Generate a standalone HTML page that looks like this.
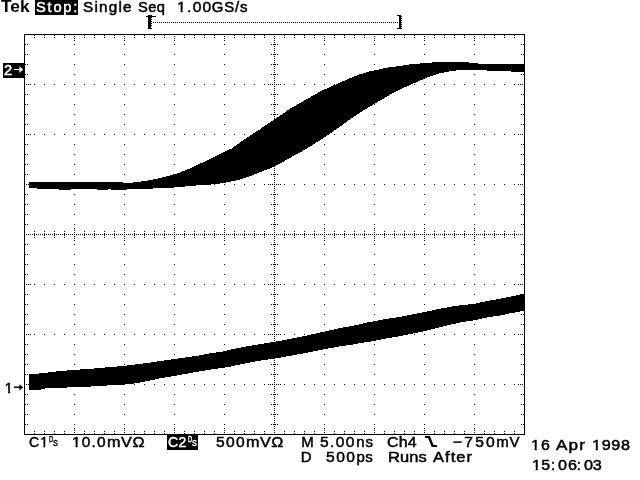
<!DOCTYPE html>
<html><head><meta charset="utf-8"><title>Tek TDS scope capture</title>
<style>
html,body{margin:0;padding:0;background:#fff;}
body{width:640px;height:480px;position:relative;overflow:hidden;font-family:"Liberation Sans",sans-serif;color:#000;}
svg{position:absolute;left:0;top:0;}
.t{position:absolute;white-space:pre;font-size:15px;line-height:16px;height:16px;letter-spacing:0.9px;-webkit-text-stroke:0.5px #000;transform-origin:0 0;}
.w{color:#fff;-webkit-text-stroke-color:#fff;}
.b{font-weight:bold;-webkit-text-stroke:0;}
.sm{font-size:9.8px;line-height:10px;height:10px;letter-spacing:0;-webkit-text-stroke-width:0.45px;}
.box{position:absolute;background:#000;}
.o{display:inline-block;clip-path:polygon(0 0,100% 0,100% calc(7.5px + 0.1965em),0.36em calc(7.5px + 0.1965em),0.36em 100%,0.232em 100%,0.232em calc(7.5px + 0.1965em),0 calc(7.5px + 0.1965em));}
</style></head><body>
<svg width="640" height="480" viewBox="0 0 640 480" shape-rendering="crispEdges">
<path d="M24 34h501v1h-501zM24 434h501v1h-501zM24 34h1v401h-1zM524 34h1v401h-1zM34 35h1v1h-1zM34 37h1v1h-1zM34 433h1v1h-1zM34 431h1v1h-1zM44 35h1v1h-1zM44 37h1v1h-1zM44 433h1v1h-1zM44 431h1v1h-1zM54 35h1v1h-1zM54 37h1v1h-1zM54 433h1v1h-1zM54 431h1v1h-1zM64 35h1v1h-1zM64 37h1v1h-1zM64 433h1v1h-1zM64 431h1v1h-1zM74 44h1v1h-1zM74 54h1v1h-1zM74 64h1v1h-1zM74 74h1v1h-1zM74 84h1v1h-1zM74 94h1v1h-1zM74 104h1v1h-1zM74 114h1v1h-1zM74 124h1v1h-1zM74 134h1v1h-1zM74 144h1v1h-1zM74 154h1v1h-1zM74 164h1v1h-1zM74 174h1v1h-1zM74 184h1v1h-1zM74 194h1v1h-1zM74 204h1v1h-1zM74 214h1v1h-1zM74 224h1v1h-1zM74 244h1v1h-1zM74 254h1v1h-1zM74 264h1v1h-1zM74 274h1v1h-1zM74 284h1v1h-1zM74 294h1v1h-1zM74 304h1v1h-1zM74 314h1v1h-1zM74 324h1v1h-1zM74 334h1v1h-1zM74 344h1v1h-1zM74 354h1v1h-1zM74 364h1v1h-1zM74 374h1v1h-1zM74 384h1v1h-1zM74 394h1v1h-1zM74 404h1v1h-1zM74 414h1v1h-1zM74 424h1v1h-1zM74 36h1v1h-1zM74 432h1v1h-1zM74 232h1v1h-1zM74 236h1v1h-1zM74 38h1v1h-1zM74 430h1v1h-1zM74 230h1v1h-1zM74 238h1v1h-1zM74 40h1v1h-1zM74 428h1v1h-1zM74 228h1v1h-1zM74 240h1v1h-1zM84 35h1v1h-1zM84 37h1v1h-1zM84 433h1v1h-1zM84 431h1v1h-1zM94 35h1v1h-1zM94 37h1v1h-1zM94 433h1v1h-1zM94 431h1v1h-1zM104 35h1v1h-1zM104 37h1v1h-1zM104 433h1v1h-1zM104 431h1v1h-1zM114 35h1v1h-1zM114 37h1v1h-1zM114 433h1v1h-1zM114 431h1v1h-1zM124 44h1v1h-1zM124 54h1v1h-1zM124 64h1v1h-1zM124 74h1v1h-1zM124 84h1v1h-1zM124 94h1v1h-1zM124 104h1v1h-1zM124 114h1v1h-1zM124 124h1v1h-1zM124 134h1v1h-1zM124 144h1v1h-1zM124 154h1v1h-1zM124 164h1v1h-1zM124 174h1v1h-1zM124 184h1v1h-1zM124 194h1v1h-1zM124 204h1v1h-1zM124 214h1v1h-1zM124 224h1v1h-1zM124 244h1v1h-1zM124 254h1v1h-1zM124 264h1v1h-1zM124 274h1v1h-1zM124 284h1v1h-1zM124 294h1v1h-1zM124 304h1v1h-1zM124 314h1v1h-1zM124 324h1v1h-1zM124 334h1v1h-1zM124 344h1v1h-1zM124 354h1v1h-1zM124 364h1v1h-1zM124 374h1v1h-1zM124 384h1v1h-1zM124 394h1v1h-1zM124 404h1v1h-1zM124 414h1v1h-1zM124 424h1v1h-1zM124 36h1v1h-1zM124 432h1v1h-1zM124 232h1v1h-1zM124 236h1v1h-1zM124 38h1v1h-1zM124 430h1v1h-1zM124 230h1v1h-1zM124 238h1v1h-1zM124 40h1v1h-1zM124 428h1v1h-1zM124 228h1v1h-1zM124 240h1v1h-1zM134 35h1v1h-1zM134 37h1v1h-1zM134 433h1v1h-1zM134 431h1v1h-1zM144 35h1v1h-1zM144 37h1v1h-1zM144 433h1v1h-1zM144 431h1v1h-1zM154 35h1v1h-1zM154 37h1v1h-1zM154 433h1v1h-1zM154 431h1v1h-1zM164 35h1v1h-1zM164 37h1v1h-1zM164 433h1v1h-1zM164 431h1v1h-1zM174 44h1v1h-1zM174 54h1v1h-1zM174 64h1v1h-1zM174 74h1v1h-1zM174 84h1v1h-1zM174 94h1v1h-1zM174 104h1v1h-1zM174 114h1v1h-1zM174 124h1v1h-1zM174 134h1v1h-1zM174 144h1v1h-1zM174 154h1v1h-1zM174 164h1v1h-1zM174 174h1v1h-1zM174 184h1v1h-1zM174 194h1v1h-1zM174 204h1v1h-1zM174 214h1v1h-1zM174 224h1v1h-1zM174 244h1v1h-1zM174 254h1v1h-1zM174 264h1v1h-1zM174 274h1v1h-1zM174 284h1v1h-1zM174 294h1v1h-1zM174 304h1v1h-1zM174 314h1v1h-1zM174 324h1v1h-1zM174 334h1v1h-1zM174 344h1v1h-1zM174 354h1v1h-1zM174 364h1v1h-1zM174 374h1v1h-1zM174 384h1v1h-1zM174 394h1v1h-1zM174 404h1v1h-1zM174 414h1v1h-1zM174 424h1v1h-1zM174 36h1v1h-1zM174 432h1v1h-1zM174 232h1v1h-1zM174 236h1v1h-1zM174 38h1v1h-1zM174 430h1v1h-1zM174 230h1v1h-1zM174 238h1v1h-1zM174 40h1v1h-1zM174 428h1v1h-1zM174 228h1v1h-1zM174 240h1v1h-1zM184 35h1v1h-1zM184 37h1v1h-1zM184 433h1v1h-1zM184 431h1v1h-1zM194 35h1v1h-1zM194 37h1v1h-1zM194 433h1v1h-1zM194 431h1v1h-1zM204 35h1v1h-1zM204 37h1v1h-1zM204 433h1v1h-1zM204 431h1v1h-1zM214 35h1v1h-1zM214 37h1v1h-1zM214 433h1v1h-1zM214 431h1v1h-1zM224 44h1v1h-1zM224 54h1v1h-1zM224 64h1v1h-1zM224 74h1v1h-1zM224 84h1v1h-1zM224 94h1v1h-1zM224 104h1v1h-1zM224 114h1v1h-1zM224 124h1v1h-1zM224 134h1v1h-1zM224 144h1v1h-1zM224 154h1v1h-1zM224 164h1v1h-1zM224 174h1v1h-1zM224 184h1v1h-1zM224 194h1v1h-1zM224 204h1v1h-1zM224 214h1v1h-1zM224 224h1v1h-1zM224 244h1v1h-1zM224 254h1v1h-1zM224 264h1v1h-1zM224 274h1v1h-1zM224 284h1v1h-1zM224 294h1v1h-1zM224 304h1v1h-1zM224 314h1v1h-1zM224 324h1v1h-1zM224 334h1v1h-1zM224 344h1v1h-1zM224 354h1v1h-1zM224 364h1v1h-1zM224 374h1v1h-1zM224 384h1v1h-1zM224 394h1v1h-1zM224 404h1v1h-1zM224 414h1v1h-1zM224 424h1v1h-1zM224 36h1v1h-1zM224 432h1v1h-1zM224 232h1v1h-1zM224 236h1v1h-1zM224 38h1v1h-1zM224 430h1v1h-1zM224 230h1v1h-1zM224 238h1v1h-1zM224 40h1v1h-1zM224 428h1v1h-1zM224 228h1v1h-1zM224 240h1v1h-1zM234 35h1v1h-1zM234 37h1v1h-1zM234 433h1v1h-1zM234 431h1v1h-1zM244 35h1v1h-1zM244 37h1v1h-1zM244 433h1v1h-1zM244 431h1v1h-1zM254 35h1v1h-1zM254 37h1v1h-1zM254 433h1v1h-1zM254 431h1v1h-1zM264 35h1v1h-1zM264 37h1v1h-1zM264 433h1v1h-1zM264 431h1v1h-1zM284 35h1v1h-1zM284 37h1v1h-1zM284 433h1v1h-1zM284 431h1v1h-1zM294 35h1v1h-1zM294 37h1v1h-1zM294 433h1v1h-1zM294 431h1v1h-1zM304 35h1v1h-1zM304 37h1v1h-1zM304 433h1v1h-1zM304 431h1v1h-1zM314 35h1v1h-1zM314 37h1v1h-1zM314 433h1v1h-1zM314 431h1v1h-1zM324 44h1v1h-1zM324 54h1v1h-1zM324 64h1v1h-1zM324 74h1v1h-1zM324 84h1v1h-1zM324 94h1v1h-1zM324 104h1v1h-1zM324 114h1v1h-1zM324 124h1v1h-1zM324 134h1v1h-1zM324 144h1v1h-1zM324 154h1v1h-1zM324 164h1v1h-1zM324 174h1v1h-1zM324 184h1v1h-1zM324 194h1v1h-1zM324 204h1v1h-1zM324 214h1v1h-1zM324 224h1v1h-1zM324 244h1v1h-1zM324 254h1v1h-1zM324 264h1v1h-1zM324 274h1v1h-1zM324 284h1v1h-1zM324 294h1v1h-1zM324 304h1v1h-1zM324 314h1v1h-1zM324 324h1v1h-1zM324 334h1v1h-1zM324 344h1v1h-1zM324 354h1v1h-1zM324 364h1v1h-1zM324 374h1v1h-1zM324 384h1v1h-1zM324 394h1v1h-1zM324 404h1v1h-1zM324 414h1v1h-1zM324 424h1v1h-1zM324 36h1v1h-1zM324 432h1v1h-1zM324 232h1v1h-1zM324 236h1v1h-1zM324 38h1v1h-1zM324 430h1v1h-1zM324 230h1v1h-1zM324 238h1v1h-1zM324 40h1v1h-1zM324 428h1v1h-1zM324 228h1v1h-1zM324 240h1v1h-1zM334 35h1v1h-1zM334 37h1v1h-1zM334 433h1v1h-1zM334 431h1v1h-1zM344 35h1v1h-1zM344 37h1v1h-1zM344 433h1v1h-1zM344 431h1v1h-1zM354 35h1v1h-1zM354 37h1v1h-1zM354 433h1v1h-1zM354 431h1v1h-1zM364 35h1v1h-1zM364 37h1v1h-1zM364 433h1v1h-1zM364 431h1v1h-1zM374 44h1v1h-1zM374 54h1v1h-1zM374 64h1v1h-1zM374 74h1v1h-1zM374 84h1v1h-1zM374 94h1v1h-1zM374 104h1v1h-1zM374 114h1v1h-1zM374 124h1v1h-1zM374 134h1v1h-1zM374 144h1v1h-1zM374 154h1v1h-1zM374 164h1v1h-1zM374 174h1v1h-1zM374 184h1v1h-1zM374 194h1v1h-1zM374 204h1v1h-1zM374 214h1v1h-1zM374 224h1v1h-1zM374 244h1v1h-1zM374 254h1v1h-1zM374 264h1v1h-1zM374 274h1v1h-1zM374 284h1v1h-1zM374 294h1v1h-1zM374 304h1v1h-1zM374 314h1v1h-1zM374 324h1v1h-1zM374 334h1v1h-1zM374 344h1v1h-1zM374 354h1v1h-1zM374 364h1v1h-1zM374 374h1v1h-1zM374 384h1v1h-1zM374 394h1v1h-1zM374 404h1v1h-1zM374 414h1v1h-1zM374 424h1v1h-1zM374 36h1v1h-1zM374 432h1v1h-1zM374 232h1v1h-1zM374 236h1v1h-1zM374 38h1v1h-1zM374 430h1v1h-1zM374 230h1v1h-1zM374 238h1v1h-1zM374 40h1v1h-1zM374 428h1v1h-1zM374 228h1v1h-1zM374 240h1v1h-1zM384 35h1v1h-1zM384 37h1v1h-1zM384 433h1v1h-1zM384 431h1v1h-1zM394 35h1v1h-1zM394 37h1v1h-1zM394 433h1v1h-1zM394 431h1v1h-1zM404 35h1v1h-1zM404 37h1v1h-1zM404 433h1v1h-1zM404 431h1v1h-1zM414 35h1v1h-1zM414 37h1v1h-1zM414 433h1v1h-1zM414 431h1v1h-1zM424 44h1v1h-1zM424 54h1v1h-1zM424 64h1v1h-1zM424 74h1v1h-1zM424 84h1v1h-1zM424 94h1v1h-1zM424 104h1v1h-1zM424 114h1v1h-1zM424 124h1v1h-1zM424 134h1v1h-1zM424 144h1v1h-1zM424 154h1v1h-1zM424 164h1v1h-1zM424 174h1v1h-1zM424 184h1v1h-1zM424 194h1v1h-1zM424 204h1v1h-1zM424 214h1v1h-1zM424 224h1v1h-1zM424 244h1v1h-1zM424 254h1v1h-1zM424 264h1v1h-1zM424 274h1v1h-1zM424 284h1v1h-1zM424 294h1v1h-1zM424 304h1v1h-1zM424 314h1v1h-1zM424 324h1v1h-1zM424 334h1v1h-1zM424 344h1v1h-1zM424 354h1v1h-1zM424 364h1v1h-1zM424 374h1v1h-1zM424 384h1v1h-1zM424 394h1v1h-1zM424 404h1v1h-1zM424 414h1v1h-1zM424 424h1v1h-1zM424 36h1v1h-1zM424 432h1v1h-1zM424 232h1v1h-1zM424 236h1v1h-1zM424 38h1v1h-1zM424 430h1v1h-1zM424 230h1v1h-1zM424 238h1v1h-1zM424 40h1v1h-1zM424 428h1v1h-1zM424 228h1v1h-1zM424 240h1v1h-1zM434 35h1v1h-1zM434 37h1v1h-1zM434 433h1v1h-1zM434 431h1v1h-1zM444 35h1v1h-1zM444 37h1v1h-1zM444 433h1v1h-1zM444 431h1v1h-1zM454 35h1v1h-1zM454 37h1v1h-1zM454 433h1v1h-1zM454 431h1v1h-1zM464 35h1v1h-1zM464 37h1v1h-1zM464 433h1v1h-1zM464 431h1v1h-1zM474 44h1v1h-1zM474 54h1v1h-1zM474 64h1v1h-1zM474 74h1v1h-1zM474 84h1v1h-1zM474 94h1v1h-1zM474 104h1v1h-1zM474 114h1v1h-1zM474 124h1v1h-1zM474 134h1v1h-1zM474 144h1v1h-1zM474 154h1v1h-1zM474 164h1v1h-1zM474 174h1v1h-1zM474 184h1v1h-1zM474 194h1v1h-1zM474 204h1v1h-1zM474 214h1v1h-1zM474 224h1v1h-1zM474 244h1v1h-1zM474 254h1v1h-1zM474 264h1v1h-1zM474 274h1v1h-1zM474 284h1v1h-1zM474 294h1v1h-1zM474 304h1v1h-1zM474 314h1v1h-1zM474 324h1v1h-1zM474 334h1v1h-1zM474 344h1v1h-1zM474 354h1v1h-1zM474 364h1v1h-1zM474 374h1v1h-1zM474 384h1v1h-1zM474 394h1v1h-1zM474 404h1v1h-1zM474 414h1v1h-1zM474 424h1v1h-1zM474 36h1v1h-1zM474 432h1v1h-1zM474 232h1v1h-1zM474 236h1v1h-1zM474 38h1v1h-1zM474 430h1v1h-1zM474 230h1v1h-1zM474 238h1v1h-1zM474 40h1v1h-1zM474 428h1v1h-1zM474 228h1v1h-1zM474 240h1v1h-1zM484 35h1v1h-1zM484 37h1v1h-1zM484 433h1v1h-1zM484 431h1v1h-1zM494 35h1v1h-1zM494 37h1v1h-1zM494 433h1v1h-1zM494 431h1v1h-1zM504 35h1v1h-1zM504 37h1v1h-1zM504 433h1v1h-1zM504 431h1v1h-1zM514 35h1v1h-1zM514 37h1v1h-1zM514 433h1v1h-1zM514 431h1v1h-1zM25 44h1v1h-1zM27 44h1v1h-1zM523 44h1v1h-1zM521 44h1v1h-1zM25 54h1v1h-1zM27 54h1v1h-1zM523 54h1v1h-1zM521 54h1v1h-1zM25 64h1v1h-1zM27 64h1v1h-1zM523 64h1v1h-1zM521 64h1v1h-1zM25 74h1v1h-1zM27 74h1v1h-1zM523 74h1v1h-1zM521 74h1v1h-1zM34 84h1v1h-1zM44 84h1v1h-1zM54 84h1v1h-1zM64 84h1v1h-1zM84 84h1v1h-1zM94 84h1v1h-1zM104 84h1v1h-1zM114 84h1v1h-1zM134 84h1v1h-1zM144 84h1v1h-1zM154 84h1v1h-1zM164 84h1v1h-1zM184 84h1v1h-1zM194 84h1v1h-1zM204 84h1v1h-1zM214 84h1v1h-1zM234 84h1v1h-1zM244 84h1v1h-1zM254 84h1v1h-1zM264 84h1v1h-1zM284 84h1v1h-1zM294 84h1v1h-1zM304 84h1v1h-1zM314 84h1v1h-1zM334 84h1v1h-1zM344 84h1v1h-1zM354 84h1v1h-1zM364 84h1v1h-1zM384 84h1v1h-1zM394 84h1v1h-1zM404 84h1v1h-1zM414 84h1v1h-1zM434 84h1v1h-1zM444 84h1v1h-1zM454 84h1v1h-1zM464 84h1v1h-1zM484 84h1v1h-1zM494 84h1v1h-1zM504 84h1v1h-1zM514 84h1v1h-1zM26 84h1v1h-1zM522 84h1v1h-1zM272 84h1v1h-1zM276 84h1v1h-1zM28 84h1v1h-1zM520 84h1v1h-1zM270 84h1v1h-1zM278 84h1v1h-1zM30 84h1v1h-1zM518 84h1v1h-1zM268 84h1v1h-1zM280 84h1v1h-1zM25 94h1v1h-1zM27 94h1v1h-1zM523 94h1v1h-1zM521 94h1v1h-1zM25 104h1v1h-1zM27 104h1v1h-1zM523 104h1v1h-1zM521 104h1v1h-1zM25 114h1v1h-1zM27 114h1v1h-1zM523 114h1v1h-1zM521 114h1v1h-1zM25 124h1v1h-1zM27 124h1v1h-1zM523 124h1v1h-1zM521 124h1v1h-1zM34 134h1v1h-1zM44 134h1v1h-1zM54 134h1v1h-1zM64 134h1v1h-1zM84 134h1v1h-1zM94 134h1v1h-1zM104 134h1v1h-1zM114 134h1v1h-1zM134 134h1v1h-1zM144 134h1v1h-1zM154 134h1v1h-1zM164 134h1v1h-1zM184 134h1v1h-1zM194 134h1v1h-1zM204 134h1v1h-1zM214 134h1v1h-1zM234 134h1v1h-1zM244 134h1v1h-1zM254 134h1v1h-1zM264 134h1v1h-1zM284 134h1v1h-1zM294 134h1v1h-1zM304 134h1v1h-1zM314 134h1v1h-1zM334 134h1v1h-1zM344 134h1v1h-1zM354 134h1v1h-1zM364 134h1v1h-1zM384 134h1v1h-1zM394 134h1v1h-1zM404 134h1v1h-1zM414 134h1v1h-1zM434 134h1v1h-1zM444 134h1v1h-1zM454 134h1v1h-1zM464 134h1v1h-1zM484 134h1v1h-1zM494 134h1v1h-1zM504 134h1v1h-1zM514 134h1v1h-1zM26 134h1v1h-1zM522 134h1v1h-1zM272 134h1v1h-1zM276 134h1v1h-1zM28 134h1v1h-1zM520 134h1v1h-1zM270 134h1v1h-1zM278 134h1v1h-1zM30 134h1v1h-1zM518 134h1v1h-1zM268 134h1v1h-1zM280 134h1v1h-1zM25 144h1v1h-1zM27 144h1v1h-1zM523 144h1v1h-1zM521 144h1v1h-1zM25 154h1v1h-1zM27 154h1v1h-1zM523 154h1v1h-1zM521 154h1v1h-1zM25 164h1v1h-1zM27 164h1v1h-1zM523 164h1v1h-1zM521 164h1v1h-1zM25 174h1v1h-1zM27 174h1v1h-1zM523 174h1v1h-1zM521 174h1v1h-1zM34 184h1v1h-1zM44 184h1v1h-1zM54 184h1v1h-1zM64 184h1v1h-1zM84 184h1v1h-1zM94 184h1v1h-1zM104 184h1v1h-1zM114 184h1v1h-1zM134 184h1v1h-1zM144 184h1v1h-1zM154 184h1v1h-1zM164 184h1v1h-1zM184 184h1v1h-1zM194 184h1v1h-1zM204 184h1v1h-1zM214 184h1v1h-1zM234 184h1v1h-1zM244 184h1v1h-1zM254 184h1v1h-1zM264 184h1v1h-1zM284 184h1v1h-1zM294 184h1v1h-1zM304 184h1v1h-1zM314 184h1v1h-1zM334 184h1v1h-1zM344 184h1v1h-1zM354 184h1v1h-1zM364 184h1v1h-1zM384 184h1v1h-1zM394 184h1v1h-1zM404 184h1v1h-1zM414 184h1v1h-1zM434 184h1v1h-1zM444 184h1v1h-1zM454 184h1v1h-1zM464 184h1v1h-1zM484 184h1v1h-1zM494 184h1v1h-1zM504 184h1v1h-1zM514 184h1v1h-1zM26 184h1v1h-1zM522 184h1v1h-1zM272 184h1v1h-1zM276 184h1v1h-1zM28 184h1v1h-1zM520 184h1v1h-1zM270 184h1v1h-1zM278 184h1v1h-1zM30 184h1v1h-1zM518 184h1v1h-1zM268 184h1v1h-1zM280 184h1v1h-1zM25 194h1v1h-1zM27 194h1v1h-1zM523 194h1v1h-1zM521 194h1v1h-1zM25 204h1v1h-1zM27 204h1v1h-1zM523 204h1v1h-1zM521 204h1v1h-1zM25 214h1v1h-1zM27 214h1v1h-1zM523 214h1v1h-1zM521 214h1v1h-1zM25 224h1v1h-1zM27 224h1v1h-1zM523 224h1v1h-1zM521 224h1v1h-1zM25 244h1v1h-1zM27 244h1v1h-1zM523 244h1v1h-1zM521 244h1v1h-1zM25 254h1v1h-1zM27 254h1v1h-1zM523 254h1v1h-1zM521 254h1v1h-1zM25 264h1v1h-1zM27 264h1v1h-1zM523 264h1v1h-1zM521 264h1v1h-1zM25 274h1v1h-1zM27 274h1v1h-1zM523 274h1v1h-1zM521 274h1v1h-1zM34 284h1v1h-1zM44 284h1v1h-1zM54 284h1v1h-1zM64 284h1v1h-1zM84 284h1v1h-1zM94 284h1v1h-1zM104 284h1v1h-1zM114 284h1v1h-1zM134 284h1v1h-1zM144 284h1v1h-1zM154 284h1v1h-1zM164 284h1v1h-1zM184 284h1v1h-1zM194 284h1v1h-1zM204 284h1v1h-1zM214 284h1v1h-1zM234 284h1v1h-1zM244 284h1v1h-1zM254 284h1v1h-1zM264 284h1v1h-1zM284 284h1v1h-1zM294 284h1v1h-1zM304 284h1v1h-1zM314 284h1v1h-1zM334 284h1v1h-1zM344 284h1v1h-1zM354 284h1v1h-1zM364 284h1v1h-1zM384 284h1v1h-1zM394 284h1v1h-1zM404 284h1v1h-1zM414 284h1v1h-1zM434 284h1v1h-1zM444 284h1v1h-1zM454 284h1v1h-1zM464 284h1v1h-1zM484 284h1v1h-1zM494 284h1v1h-1zM504 284h1v1h-1zM514 284h1v1h-1zM26 284h1v1h-1zM522 284h1v1h-1zM272 284h1v1h-1zM276 284h1v1h-1zM28 284h1v1h-1zM520 284h1v1h-1zM270 284h1v1h-1zM278 284h1v1h-1zM30 284h1v1h-1zM518 284h1v1h-1zM268 284h1v1h-1zM280 284h1v1h-1zM25 294h1v1h-1zM27 294h1v1h-1zM523 294h1v1h-1zM521 294h1v1h-1zM25 304h1v1h-1zM27 304h1v1h-1zM523 304h1v1h-1zM521 304h1v1h-1zM25 314h1v1h-1zM27 314h1v1h-1zM523 314h1v1h-1zM521 314h1v1h-1zM25 324h1v1h-1zM27 324h1v1h-1zM523 324h1v1h-1zM521 324h1v1h-1zM34 334h1v1h-1zM44 334h1v1h-1zM54 334h1v1h-1zM64 334h1v1h-1zM84 334h1v1h-1zM94 334h1v1h-1zM104 334h1v1h-1zM114 334h1v1h-1zM134 334h1v1h-1zM144 334h1v1h-1zM154 334h1v1h-1zM164 334h1v1h-1zM184 334h1v1h-1zM194 334h1v1h-1zM204 334h1v1h-1zM214 334h1v1h-1zM234 334h1v1h-1zM244 334h1v1h-1zM254 334h1v1h-1zM264 334h1v1h-1zM284 334h1v1h-1zM294 334h1v1h-1zM304 334h1v1h-1zM314 334h1v1h-1zM334 334h1v1h-1zM344 334h1v1h-1zM354 334h1v1h-1zM364 334h1v1h-1zM384 334h1v1h-1zM394 334h1v1h-1zM404 334h1v1h-1zM414 334h1v1h-1zM434 334h1v1h-1zM444 334h1v1h-1zM454 334h1v1h-1zM464 334h1v1h-1zM484 334h1v1h-1zM494 334h1v1h-1zM504 334h1v1h-1zM514 334h1v1h-1zM26 334h1v1h-1zM522 334h1v1h-1zM272 334h1v1h-1zM276 334h1v1h-1zM28 334h1v1h-1zM520 334h1v1h-1zM270 334h1v1h-1zM278 334h1v1h-1zM30 334h1v1h-1zM518 334h1v1h-1zM268 334h1v1h-1zM280 334h1v1h-1zM25 344h1v1h-1zM27 344h1v1h-1zM523 344h1v1h-1zM521 344h1v1h-1zM25 354h1v1h-1zM27 354h1v1h-1zM523 354h1v1h-1zM521 354h1v1h-1zM25 364h1v1h-1zM27 364h1v1h-1zM523 364h1v1h-1zM521 364h1v1h-1zM25 374h1v1h-1zM27 374h1v1h-1zM523 374h1v1h-1zM521 374h1v1h-1zM34 384h1v1h-1zM44 384h1v1h-1zM54 384h1v1h-1zM64 384h1v1h-1zM84 384h1v1h-1zM94 384h1v1h-1zM104 384h1v1h-1zM114 384h1v1h-1zM134 384h1v1h-1zM144 384h1v1h-1zM154 384h1v1h-1zM164 384h1v1h-1zM184 384h1v1h-1zM194 384h1v1h-1zM204 384h1v1h-1zM214 384h1v1h-1zM234 384h1v1h-1zM244 384h1v1h-1zM254 384h1v1h-1zM264 384h1v1h-1zM284 384h1v1h-1zM294 384h1v1h-1zM304 384h1v1h-1zM314 384h1v1h-1zM334 384h1v1h-1zM344 384h1v1h-1zM354 384h1v1h-1zM364 384h1v1h-1zM384 384h1v1h-1zM394 384h1v1h-1zM404 384h1v1h-1zM414 384h1v1h-1zM434 384h1v1h-1zM444 384h1v1h-1zM454 384h1v1h-1zM464 384h1v1h-1zM484 384h1v1h-1zM494 384h1v1h-1zM504 384h1v1h-1zM514 384h1v1h-1zM26 384h1v1h-1zM522 384h1v1h-1zM272 384h1v1h-1zM276 384h1v1h-1zM28 384h1v1h-1zM520 384h1v1h-1zM270 384h1v1h-1zM278 384h1v1h-1zM30 384h1v1h-1zM518 384h1v1h-1zM268 384h1v1h-1zM280 384h1v1h-1zM25 394h1v1h-1zM27 394h1v1h-1zM523 394h1v1h-1zM521 394h1v1h-1zM25 404h1v1h-1zM27 404h1v1h-1zM523 404h1v1h-1zM521 404h1v1h-1zM25 414h1v1h-1zM27 414h1v1h-1zM523 414h1v1h-1zM521 414h1v1h-1zM25 424h1v1h-1zM27 424h1v1h-1zM523 424h1v1h-1zM521 424h1v1h-1zM274 36h1v1h-1zM274 38h1v1h-1zM274 40h1v1h-1zM274 42h1v1h-1zM274 44h1v1h-1zM271 44h1v1h-1zM273 44h1v1h-1zM275 44h1v1h-1zM277 44h1v1h-1zM274 46h1v1h-1zM274 48h1v1h-1zM274 50h1v1h-1zM274 52h1v1h-1zM274 54h1v1h-1zM271 54h1v1h-1zM273 54h1v1h-1zM275 54h1v1h-1zM277 54h1v1h-1zM274 56h1v1h-1zM274 58h1v1h-1zM274 60h1v1h-1zM274 62h1v1h-1zM274 64h1v1h-1zM271 64h1v1h-1zM273 64h1v1h-1zM275 64h1v1h-1zM277 64h1v1h-1zM274 66h1v1h-1zM274 68h1v1h-1zM274 70h1v1h-1zM274 72h1v1h-1zM274 74h1v1h-1zM271 74h1v1h-1zM273 74h1v1h-1zM275 74h1v1h-1zM277 74h1v1h-1zM274 76h1v1h-1zM274 78h1v1h-1zM274 80h1v1h-1zM274 82h1v1h-1zM274 84h1v1h-1zM274 86h1v1h-1zM274 88h1v1h-1zM274 90h1v1h-1zM274 92h1v1h-1zM274 94h1v1h-1zM271 94h1v1h-1zM273 94h1v1h-1zM275 94h1v1h-1zM277 94h1v1h-1zM274 96h1v1h-1zM274 98h1v1h-1zM274 100h1v1h-1zM274 102h1v1h-1zM274 104h1v1h-1zM271 104h1v1h-1zM273 104h1v1h-1zM275 104h1v1h-1zM277 104h1v1h-1zM274 106h1v1h-1zM274 108h1v1h-1zM274 110h1v1h-1zM274 112h1v1h-1zM274 114h1v1h-1zM271 114h1v1h-1zM273 114h1v1h-1zM275 114h1v1h-1zM277 114h1v1h-1zM274 116h1v1h-1zM274 118h1v1h-1zM274 120h1v1h-1zM274 122h1v1h-1zM274 124h1v1h-1zM271 124h1v1h-1zM273 124h1v1h-1zM275 124h1v1h-1zM277 124h1v1h-1zM274 126h1v1h-1zM274 128h1v1h-1zM274 130h1v1h-1zM274 132h1v1h-1zM274 134h1v1h-1zM274 136h1v1h-1zM274 138h1v1h-1zM274 140h1v1h-1zM274 142h1v1h-1zM274 144h1v1h-1zM271 144h1v1h-1zM273 144h1v1h-1zM275 144h1v1h-1zM277 144h1v1h-1zM274 146h1v1h-1zM274 148h1v1h-1zM274 150h1v1h-1zM274 152h1v1h-1zM274 154h1v1h-1zM271 154h1v1h-1zM273 154h1v1h-1zM275 154h1v1h-1zM277 154h1v1h-1zM274 156h1v1h-1zM274 158h1v1h-1zM274 160h1v1h-1zM274 162h1v1h-1zM274 164h1v1h-1zM271 164h1v1h-1zM273 164h1v1h-1zM275 164h1v1h-1zM277 164h1v1h-1zM274 166h1v1h-1zM274 168h1v1h-1zM274 170h1v1h-1zM274 172h1v1h-1zM274 174h1v1h-1zM271 174h1v1h-1zM273 174h1v1h-1zM275 174h1v1h-1zM277 174h1v1h-1zM274 176h1v1h-1zM274 178h1v1h-1zM274 180h1v1h-1zM274 182h1v1h-1zM274 184h1v1h-1zM274 186h1v1h-1zM274 188h1v1h-1zM274 190h1v1h-1zM274 192h1v1h-1zM274 194h1v1h-1zM271 194h1v1h-1zM273 194h1v1h-1zM275 194h1v1h-1zM277 194h1v1h-1zM274 196h1v1h-1zM274 198h1v1h-1zM274 200h1v1h-1zM274 202h1v1h-1zM274 204h1v1h-1zM271 204h1v1h-1zM273 204h1v1h-1zM275 204h1v1h-1zM277 204h1v1h-1zM274 206h1v1h-1zM274 208h1v1h-1zM274 210h1v1h-1zM274 212h1v1h-1zM274 214h1v1h-1zM271 214h1v1h-1zM273 214h1v1h-1zM275 214h1v1h-1zM277 214h1v1h-1zM274 216h1v1h-1zM274 218h1v1h-1zM274 220h1v1h-1zM274 222h1v1h-1zM274 224h1v1h-1zM271 224h1v1h-1zM273 224h1v1h-1zM275 224h1v1h-1zM277 224h1v1h-1zM274 226h1v1h-1zM274 228h1v1h-1zM274 230h1v1h-1zM274 232h1v1h-1zM274 234h1v1h-1zM274 236h1v1h-1zM274 238h1v1h-1zM274 240h1v1h-1zM274 242h1v1h-1zM274 244h1v1h-1zM271 244h1v1h-1zM273 244h1v1h-1zM275 244h1v1h-1zM277 244h1v1h-1zM274 246h1v1h-1zM274 248h1v1h-1zM274 250h1v1h-1zM274 252h1v1h-1zM274 254h1v1h-1zM271 254h1v1h-1zM273 254h1v1h-1zM275 254h1v1h-1zM277 254h1v1h-1zM274 256h1v1h-1zM274 258h1v1h-1zM274 260h1v1h-1zM274 262h1v1h-1zM274 264h1v1h-1zM271 264h1v1h-1zM273 264h1v1h-1zM275 264h1v1h-1zM277 264h1v1h-1zM274 266h1v1h-1zM274 268h1v1h-1zM274 270h1v1h-1zM274 272h1v1h-1zM274 274h1v1h-1zM271 274h1v1h-1zM273 274h1v1h-1zM275 274h1v1h-1zM277 274h1v1h-1zM274 276h1v1h-1zM274 278h1v1h-1zM274 280h1v1h-1zM274 282h1v1h-1zM274 284h1v1h-1zM274 286h1v1h-1zM274 288h1v1h-1zM274 290h1v1h-1zM274 292h1v1h-1zM274 294h1v1h-1zM271 294h1v1h-1zM273 294h1v1h-1zM275 294h1v1h-1zM277 294h1v1h-1zM274 296h1v1h-1zM274 298h1v1h-1zM274 300h1v1h-1zM274 302h1v1h-1zM274 304h1v1h-1zM271 304h1v1h-1zM273 304h1v1h-1zM275 304h1v1h-1zM277 304h1v1h-1zM274 306h1v1h-1zM274 308h1v1h-1zM274 310h1v1h-1zM274 312h1v1h-1zM274 314h1v1h-1zM271 314h1v1h-1zM273 314h1v1h-1zM275 314h1v1h-1zM277 314h1v1h-1zM274 316h1v1h-1zM274 318h1v1h-1zM274 320h1v1h-1zM274 322h1v1h-1zM274 324h1v1h-1zM271 324h1v1h-1zM273 324h1v1h-1zM275 324h1v1h-1zM277 324h1v1h-1zM274 326h1v1h-1zM274 328h1v1h-1zM274 330h1v1h-1zM274 332h1v1h-1zM274 334h1v1h-1zM274 336h1v1h-1zM274 338h1v1h-1zM274 340h1v1h-1zM274 342h1v1h-1zM274 344h1v1h-1zM271 344h1v1h-1zM273 344h1v1h-1zM275 344h1v1h-1zM277 344h1v1h-1zM274 346h1v1h-1zM274 348h1v1h-1zM274 350h1v1h-1zM274 352h1v1h-1zM274 354h1v1h-1zM271 354h1v1h-1zM273 354h1v1h-1zM275 354h1v1h-1zM277 354h1v1h-1zM274 356h1v1h-1zM274 358h1v1h-1zM274 360h1v1h-1zM274 362h1v1h-1zM274 364h1v1h-1zM271 364h1v1h-1zM273 364h1v1h-1zM275 364h1v1h-1zM277 364h1v1h-1zM274 366h1v1h-1zM274 368h1v1h-1zM274 370h1v1h-1zM274 372h1v1h-1zM274 374h1v1h-1zM271 374h1v1h-1zM273 374h1v1h-1zM275 374h1v1h-1zM277 374h1v1h-1zM274 376h1v1h-1zM274 378h1v1h-1zM274 380h1v1h-1zM274 382h1v1h-1zM274 384h1v1h-1zM274 386h1v1h-1zM274 388h1v1h-1zM274 390h1v1h-1zM274 392h1v1h-1zM274 394h1v1h-1zM271 394h1v1h-1zM273 394h1v1h-1zM275 394h1v1h-1zM277 394h1v1h-1zM274 396h1v1h-1zM274 398h1v1h-1zM274 400h1v1h-1zM274 402h1v1h-1zM274 404h1v1h-1zM271 404h1v1h-1zM273 404h1v1h-1zM275 404h1v1h-1zM277 404h1v1h-1zM274 406h1v1h-1zM274 408h1v1h-1zM274 410h1v1h-1zM274 412h1v1h-1zM274 414h1v1h-1zM271 414h1v1h-1zM273 414h1v1h-1zM275 414h1v1h-1zM277 414h1v1h-1zM274 416h1v1h-1zM274 418h1v1h-1zM274 420h1v1h-1zM274 422h1v1h-1zM274 424h1v1h-1zM271 424h1v1h-1zM273 424h1v1h-1zM275 424h1v1h-1zM277 424h1v1h-1zM274 426h1v1h-1zM274 428h1v1h-1zM274 430h1v1h-1zM274 432h1v1h-1zM26 234h1v1h-1zM28 234h1v1h-1zM30 234h1v1h-1zM32 234h1v1h-1zM34 234h1v1h-1zM34 231h1v1h-1zM34 233h1v1h-1zM34 235h1v1h-1zM34 237h1v1h-1zM36 234h1v1h-1zM38 234h1v1h-1zM40 234h1v1h-1zM42 234h1v1h-1zM44 234h1v1h-1zM44 231h1v1h-1zM44 233h1v1h-1zM44 235h1v1h-1zM44 237h1v1h-1zM46 234h1v1h-1zM48 234h1v1h-1zM50 234h1v1h-1zM52 234h1v1h-1zM54 234h1v1h-1zM54 231h1v1h-1zM54 233h1v1h-1zM54 235h1v1h-1zM54 237h1v1h-1zM56 234h1v1h-1zM58 234h1v1h-1zM60 234h1v1h-1zM62 234h1v1h-1zM64 234h1v1h-1zM64 231h1v1h-1zM64 233h1v1h-1zM64 235h1v1h-1zM64 237h1v1h-1zM66 234h1v1h-1zM68 234h1v1h-1zM70 234h1v1h-1zM72 234h1v1h-1zM74 234h1v1h-1zM76 234h1v1h-1zM78 234h1v1h-1zM80 234h1v1h-1zM82 234h1v1h-1zM84 234h1v1h-1zM84 231h1v1h-1zM84 233h1v1h-1zM84 235h1v1h-1zM84 237h1v1h-1zM86 234h1v1h-1zM88 234h1v1h-1zM90 234h1v1h-1zM92 234h1v1h-1zM94 234h1v1h-1zM94 231h1v1h-1zM94 233h1v1h-1zM94 235h1v1h-1zM94 237h1v1h-1zM96 234h1v1h-1zM98 234h1v1h-1zM100 234h1v1h-1zM102 234h1v1h-1zM104 234h1v1h-1zM104 231h1v1h-1zM104 233h1v1h-1zM104 235h1v1h-1zM104 237h1v1h-1zM106 234h1v1h-1zM108 234h1v1h-1zM110 234h1v1h-1zM112 234h1v1h-1zM114 234h1v1h-1zM114 231h1v1h-1zM114 233h1v1h-1zM114 235h1v1h-1zM114 237h1v1h-1zM116 234h1v1h-1zM118 234h1v1h-1zM120 234h1v1h-1zM122 234h1v1h-1zM124 234h1v1h-1zM126 234h1v1h-1zM128 234h1v1h-1zM130 234h1v1h-1zM132 234h1v1h-1zM134 234h1v1h-1zM134 231h1v1h-1zM134 233h1v1h-1zM134 235h1v1h-1zM134 237h1v1h-1zM136 234h1v1h-1zM138 234h1v1h-1zM140 234h1v1h-1zM142 234h1v1h-1zM144 234h1v1h-1zM144 231h1v1h-1zM144 233h1v1h-1zM144 235h1v1h-1zM144 237h1v1h-1zM146 234h1v1h-1zM148 234h1v1h-1zM150 234h1v1h-1zM152 234h1v1h-1zM154 234h1v1h-1zM154 231h1v1h-1zM154 233h1v1h-1zM154 235h1v1h-1zM154 237h1v1h-1zM156 234h1v1h-1zM158 234h1v1h-1zM160 234h1v1h-1zM162 234h1v1h-1zM164 234h1v1h-1zM164 231h1v1h-1zM164 233h1v1h-1zM164 235h1v1h-1zM164 237h1v1h-1zM166 234h1v1h-1zM168 234h1v1h-1zM170 234h1v1h-1zM172 234h1v1h-1zM174 234h1v1h-1zM176 234h1v1h-1zM178 234h1v1h-1zM180 234h1v1h-1zM182 234h1v1h-1zM184 234h1v1h-1zM184 231h1v1h-1zM184 233h1v1h-1zM184 235h1v1h-1zM184 237h1v1h-1zM186 234h1v1h-1zM188 234h1v1h-1zM190 234h1v1h-1zM192 234h1v1h-1zM194 234h1v1h-1zM194 231h1v1h-1zM194 233h1v1h-1zM194 235h1v1h-1zM194 237h1v1h-1zM196 234h1v1h-1zM198 234h1v1h-1zM200 234h1v1h-1zM202 234h1v1h-1zM204 234h1v1h-1zM204 231h1v1h-1zM204 233h1v1h-1zM204 235h1v1h-1zM204 237h1v1h-1zM206 234h1v1h-1zM208 234h1v1h-1zM210 234h1v1h-1zM212 234h1v1h-1zM214 234h1v1h-1zM214 231h1v1h-1zM214 233h1v1h-1zM214 235h1v1h-1zM214 237h1v1h-1zM216 234h1v1h-1zM218 234h1v1h-1zM220 234h1v1h-1zM222 234h1v1h-1zM224 234h1v1h-1zM226 234h1v1h-1zM228 234h1v1h-1zM230 234h1v1h-1zM232 234h1v1h-1zM234 234h1v1h-1zM234 231h1v1h-1zM234 233h1v1h-1zM234 235h1v1h-1zM234 237h1v1h-1zM236 234h1v1h-1zM238 234h1v1h-1zM240 234h1v1h-1zM242 234h1v1h-1zM244 234h1v1h-1zM244 231h1v1h-1zM244 233h1v1h-1zM244 235h1v1h-1zM244 237h1v1h-1zM246 234h1v1h-1zM248 234h1v1h-1zM250 234h1v1h-1zM252 234h1v1h-1zM254 234h1v1h-1zM254 231h1v1h-1zM254 233h1v1h-1zM254 235h1v1h-1zM254 237h1v1h-1zM256 234h1v1h-1zM258 234h1v1h-1zM260 234h1v1h-1zM262 234h1v1h-1zM264 234h1v1h-1zM264 231h1v1h-1zM264 233h1v1h-1zM264 235h1v1h-1zM264 237h1v1h-1zM266 234h1v1h-1zM268 234h1v1h-1zM270 234h1v1h-1zM272 234h1v1h-1zM274 234h1v1h-1zM276 234h1v1h-1zM278 234h1v1h-1zM280 234h1v1h-1zM282 234h1v1h-1zM284 234h1v1h-1zM284 231h1v1h-1zM284 233h1v1h-1zM284 235h1v1h-1zM284 237h1v1h-1zM286 234h1v1h-1zM288 234h1v1h-1zM290 234h1v1h-1zM292 234h1v1h-1zM294 234h1v1h-1zM294 231h1v1h-1zM294 233h1v1h-1zM294 235h1v1h-1zM294 237h1v1h-1zM296 234h1v1h-1zM298 234h1v1h-1zM300 234h1v1h-1zM302 234h1v1h-1zM304 234h1v1h-1zM304 231h1v1h-1zM304 233h1v1h-1zM304 235h1v1h-1zM304 237h1v1h-1zM306 234h1v1h-1zM308 234h1v1h-1zM310 234h1v1h-1zM312 234h1v1h-1zM314 234h1v1h-1zM314 231h1v1h-1zM314 233h1v1h-1zM314 235h1v1h-1zM314 237h1v1h-1zM316 234h1v1h-1zM318 234h1v1h-1zM320 234h1v1h-1zM322 234h1v1h-1zM324 234h1v1h-1zM326 234h1v1h-1zM328 234h1v1h-1zM330 234h1v1h-1zM332 234h1v1h-1zM334 234h1v1h-1zM334 231h1v1h-1zM334 233h1v1h-1zM334 235h1v1h-1zM334 237h1v1h-1zM336 234h1v1h-1zM338 234h1v1h-1zM340 234h1v1h-1zM342 234h1v1h-1zM344 234h1v1h-1zM344 231h1v1h-1zM344 233h1v1h-1zM344 235h1v1h-1zM344 237h1v1h-1zM346 234h1v1h-1zM348 234h1v1h-1zM350 234h1v1h-1zM352 234h1v1h-1zM354 234h1v1h-1zM354 231h1v1h-1zM354 233h1v1h-1zM354 235h1v1h-1zM354 237h1v1h-1zM356 234h1v1h-1zM358 234h1v1h-1zM360 234h1v1h-1zM362 234h1v1h-1zM364 234h1v1h-1zM364 231h1v1h-1zM364 233h1v1h-1zM364 235h1v1h-1zM364 237h1v1h-1zM366 234h1v1h-1zM368 234h1v1h-1zM370 234h1v1h-1zM372 234h1v1h-1zM374 234h1v1h-1zM376 234h1v1h-1zM378 234h1v1h-1zM380 234h1v1h-1zM382 234h1v1h-1zM384 234h1v1h-1zM384 231h1v1h-1zM384 233h1v1h-1zM384 235h1v1h-1zM384 237h1v1h-1zM386 234h1v1h-1zM388 234h1v1h-1zM390 234h1v1h-1zM392 234h1v1h-1zM394 234h1v1h-1zM394 231h1v1h-1zM394 233h1v1h-1zM394 235h1v1h-1zM394 237h1v1h-1zM396 234h1v1h-1zM398 234h1v1h-1zM400 234h1v1h-1zM402 234h1v1h-1zM404 234h1v1h-1zM404 231h1v1h-1zM404 233h1v1h-1zM404 235h1v1h-1zM404 237h1v1h-1zM406 234h1v1h-1zM408 234h1v1h-1zM410 234h1v1h-1zM412 234h1v1h-1zM414 234h1v1h-1zM414 231h1v1h-1zM414 233h1v1h-1zM414 235h1v1h-1zM414 237h1v1h-1zM416 234h1v1h-1zM418 234h1v1h-1zM420 234h1v1h-1zM422 234h1v1h-1zM424 234h1v1h-1zM426 234h1v1h-1zM428 234h1v1h-1zM430 234h1v1h-1zM432 234h1v1h-1zM434 234h1v1h-1zM434 231h1v1h-1zM434 233h1v1h-1zM434 235h1v1h-1zM434 237h1v1h-1zM436 234h1v1h-1zM438 234h1v1h-1zM440 234h1v1h-1zM442 234h1v1h-1zM444 234h1v1h-1zM444 231h1v1h-1zM444 233h1v1h-1zM444 235h1v1h-1zM444 237h1v1h-1zM446 234h1v1h-1zM448 234h1v1h-1zM450 234h1v1h-1zM452 234h1v1h-1zM454 234h1v1h-1zM454 231h1v1h-1zM454 233h1v1h-1zM454 235h1v1h-1zM454 237h1v1h-1zM456 234h1v1h-1zM458 234h1v1h-1zM460 234h1v1h-1zM462 234h1v1h-1zM464 234h1v1h-1zM464 231h1v1h-1zM464 233h1v1h-1zM464 235h1v1h-1zM464 237h1v1h-1zM466 234h1v1h-1zM468 234h1v1h-1zM470 234h1v1h-1zM472 234h1v1h-1zM474 234h1v1h-1zM476 234h1v1h-1zM478 234h1v1h-1zM480 234h1v1h-1zM482 234h1v1h-1zM484 234h1v1h-1zM484 231h1v1h-1zM484 233h1v1h-1zM484 235h1v1h-1zM484 237h1v1h-1zM486 234h1v1h-1zM488 234h1v1h-1zM490 234h1v1h-1zM492 234h1v1h-1zM494 234h1v1h-1zM494 231h1v1h-1zM494 233h1v1h-1zM494 235h1v1h-1zM494 237h1v1h-1zM496 234h1v1h-1zM498 234h1v1h-1zM500 234h1v1h-1zM502 234h1v1h-1zM504 234h1v1h-1zM504 231h1v1h-1zM504 233h1v1h-1zM504 235h1v1h-1zM504 237h1v1h-1zM506 234h1v1h-1zM508 234h1v1h-1zM510 234h1v1h-1zM512 234h1v1h-1zM514 234h1v1h-1zM514 231h1v1h-1zM514 233h1v1h-1zM514 235h1v1h-1zM514 237h1v1h-1zM516 234h1v1h-1zM518 234h1v1h-1zM520 234h1v1h-1zM522 234h1v1h-1zM153 22h1v1h-1zM155 22h1v1h-1zM157 22h1v1h-1zM159 22h1v1h-1zM161 22h1v1h-1zM163 22h1v1h-1zM165 22h1v1h-1zM167 22h1v1h-1zM169 22h1v1h-1zM171 22h1v1h-1zM173 22h1v1h-1zM175 22h1v1h-1zM177 22h1v1h-1zM179 22h1v1h-1zM181 22h1v1h-1zM183 22h1v1h-1zM185 22h1v1h-1zM187 22h1v1h-1zM189 22h1v1h-1zM191 22h1v1h-1zM193 22h1v1h-1zM195 22h1v1h-1zM197 22h1v1h-1zM199 22h1v1h-1zM201 22h1v1h-1zM203 22h1v1h-1zM205 22h1v1h-1zM207 22h1v1h-1zM209 22h1v1h-1zM211 22h1v1h-1zM213 22h1v1h-1zM215 22h1v1h-1zM217 22h1v1h-1zM219 22h1v1h-1zM221 22h1v1h-1zM223 22h1v1h-1zM225 22h1v1h-1zM227 22h1v1h-1zM229 22h1v1h-1zM231 22h1v1h-1zM233 22h1v1h-1zM235 22h1v1h-1zM237 22h1v1h-1zM239 22h1v1h-1zM241 22h1v1h-1zM243 22h1v1h-1zM245 22h1v1h-1zM247 22h1v1h-1zM249 22h1v1h-1zM251 22h1v1h-1zM253 22h1v1h-1zM255 22h1v1h-1zM257 22h1v1h-1zM259 22h1v1h-1zM261 22h1v1h-1zM263 22h1v1h-1zM265 22h1v1h-1zM267 22h1v1h-1zM269 22h1v1h-1zM271 22h1v1h-1zM273 22h1v1h-1zM275 22h1v1h-1zM277 22h1v1h-1zM279 22h1v1h-1zM281 22h1v1h-1zM283 22h1v1h-1zM285 22h1v1h-1zM287 22h1v1h-1zM289 22h1v1h-1zM291 22h1v1h-1zM293 22h1v1h-1zM295 22h1v1h-1zM297 22h1v1h-1zM299 22h1v1h-1zM301 22h1v1h-1zM303 22h1v1h-1zM305 22h1v1h-1zM307 22h1v1h-1zM309 22h1v1h-1zM311 22h1v1h-1zM313 22h1v1h-1zM315 22h1v1h-1zM317 22h1v1h-1zM319 22h1v1h-1zM321 22h1v1h-1zM323 22h1v1h-1zM325 22h1v1h-1zM327 22h1v1h-1zM329 22h1v1h-1zM331 22h1v1h-1zM333 22h1v1h-1zM335 22h1v1h-1zM337 22h1v1h-1zM339 22h1v1h-1zM341 22h1v1h-1zM343 22h1v1h-1zM345 22h1v1h-1zM347 22h1v1h-1zM349 22h1v1h-1zM351 22h1v1h-1zM353 22h1v1h-1zM355 22h1v1h-1zM357 22h1v1h-1zM359 22h1v1h-1zM361 22h1v1h-1zM363 22h1v1h-1zM365 22h1v1h-1zM367 22h1v1h-1zM369 22h1v1h-1zM371 22h1v1h-1zM373 22h1v1h-1zM375 22h1v1h-1zM377 22h1v1h-1zM379 22h1v1h-1zM381 22h1v1h-1zM383 22h1v1h-1zM385 22h1v1h-1zM387 22h1v1h-1zM389 22h1v1h-1zM391 22h1v1h-1zM393 22h1v1h-1zM395 22h1v1h-1zM397 22h1v1h-1zM148 15h3v14h-3zM151 15h1v1h-1zM151 17h1v1h-1zM151 19h1v1h-1zM151 21h1v1h-1zM151 23h1v1h-1zM151 25h1v1h-1zM146 16h10v1h-10zM148 28h4v1h-4zM399 15h2v14h-2zM401 16h1v1h-1zM401 18h1v1h-1zM401 20h1v1h-1zM401 22h1v1h-1zM401 24h1v1h-1zM401 26h1v1h-1zM397 15h4v1h-4zM397 28h5v1h-5z" fill="#000"/>
<polygon points="29,182.4 123,182.4 123,183 128,183 135,182.3 145,181 160,178 170,175.5 180,172.5 190,168.3 200,163.7 210,159.2 224,152 232,148.3 240,142.5 250,135.8 260,129.2 274,119.7 280,115.8 290,108.6 300,103 310,97.3 320,91.5 330,87 340,82.5 350,78.1 360,74.3 370,71.3 380,69.2 385,68.1 392,66.9 400,66 410,64.4 420,63.5 430,62.75 436,62 468,62 470,62.8 481,63.75 525,63.75 525,71.6 511,71.6 511,71 487,71 487,69.75 465,69.75 460,70 450,71.25 440,73.2 430,76.5 424,78.9 420,80.6 410,85 400,89.4 390,94.75 380,100.6 370,106.4 360,112.5 350,119.3 340,126.7 330,133.6 320,140.2 310,146.5 300,152.5 295,155 285,160.8 274,166.9 265,170.3 255,174.2 245,178 235,180.8 224,183 210,184.6 195,185.6 180,187 165,188.2 150,188.6 140,189 128,189.4 127,189.4 127,190.3 111,190.3 111,189.4 108,189.4 108,190.3 97,190.3 97,189.4 71,189.4 71,190.3 59,190.3 59,189.4 37,189.4 37,188 29,188" fill="#000"/>
<polygon points="29,374.5 45,372.9 55,371.6 74,369.9 90,368.9 105,367.5 115,366.7 124,365.9 130,365.1 140,363.8 150,362.7 160,361.1 174,359 185,357.5 200,355.3 210,353.3 224,351.3 230,349.8 240,347.8 250,345.8 260,344.2 274,341.8 285,340 300,336.9 310,334.8 320,332.5 330,330.4 340,328.1 350,326.25 360,324.4 368,322.3 374,321.25 385,319.2 400,316.9 410,315 424,312.2 430,310.9 440,308.75 450,306.9 460,305.3 474,303.9 485,301.4 500,298.75 510,296.7 525,293.5 525,310.7 510,313.4 500,315.5 485,317.8 474,320.3 460,322.5 450,324.8 440,327.2 430,329.9 424,331.25 410,334 400,336.2 385,338.75 374,341 360,343.1 350,345 340,346.4 330,348.2 320,350 310,352 300,354 285,356.7 274,358.75 260,360.6 250,362.5 240,364.5 230,366.7 224,367.7 210,369.7 200,371.25 185,374 174,376 160,378.3 150,380.6 140,382.5 130,384.2 124,384.5 110,385.2 100,386.1 80,387 60,387.8 41,388.7 41,389.85 29,389.85" fill="#000"/>
<!-- trigger falling-edge symbol -->
<path shape-rendering="geometricPrecision" d="M425 436H430L430.7 438L433.6 445H437V447H431.7L428.1 438H425Z" fill="#000"/>
<!-- channel markers -->
<rect x="3" y="63" width="21" height="15" fill="#000"/>
<path shape-rendering="geometricPrecision" d="M14 68.9H19.4V66L23.2 69.5L19.4 73V70.1H14Z" fill="#fff"/>
<path shape-rendering="geometricPrecision" d="M14 386.6H19.4V384.2L23.2 387.25L19.4 390.4V387.9H14Z" fill="#000"/>
</svg>
<div class="box" style="left:35px;top:0;width:43px;height:15px"></div>
<div class="box" style="left:167px;top:435px;width:31px;height:15px"></div>
<div><span id="tek" class="t b" style="font-size:16px;left:0.57px;top:-1.00px;letter-spacing:0.04px;transform:scaleX(1.08)">Tek</span></div>
<div><span id="stop" class="t w" style="left:35.91px;top:-1.00px;letter-spacing:1.78px;transform:scaleX(0.98)">Stop:</span></div>
<div><span id="single" class="t" style="left:83.38px;top:-1.00px;letter-spacing:1.19px;transform:scaleX(1.02)">Single</span> <span id="seq" class="t" style="left:137.76px;top:-1.00px;letter-spacing:0.39px;transform:scaleX(0.98)">Seq</span></div>
<div><span id="gs1" class="t" style="left:176.89px;top:-1.00px;letter-spacing:1.26px;transform:scaleX(1.04)"><span class="o">1</span>.00</span><span id="gs2" class="t" style="left:211.81px;top:-1.00px;letter-spacing:0.78px">GS/s</span></div>
<div><span id="m2" class="t w" style="font-size:15.5px;left:4.28px;top:62.00px;letter-spacing:0.00px;transform:scaleX(0.95)">2</span></div>
<div><span id="m1" class="t" style="font-size:15.5px;left:4.59px;top:380.00px;letter-spacing:0.00px"><span class="o">1</span></span></div>
<div><span id="c1" class="t" style="left:28.66px;top:434.00px;letter-spacing:1.03px;transform:scaleX(0.94)">C<span class="o">1</span></span><span id="c1d" class="t sm" style="left:48.79px;top:434.28px;transform:scaleX(0.6)">D</span><span id="c1s" class="t sm" style="left:52.60px;top:438.22px;transform:scaleX(0.75)">S</span></div>
<div><span id="v1a" class="t" style="left:71.69px;top:434.00px;letter-spacing:1.12px;transform:scaleX(1.03)"><span class="o">1</span>0.0</span><span id="v1b" class="t" style="left:106.87px;top:434.00px;letter-spacing:0.53px;transform:scaleX(1.08)">mVΩ</span></div>
<div><span id="c2" class="t w" style="left:167.91px;top:434.00px;letter-spacing:0.22px;transform:scaleX(0.94)">C2</span><span id="c2d" class="t sm w" style="left:187.89px;top:434.28px;transform:scaleX(0.6)">D</span><span id="c2s" class="t sm w" style="left:191.70px;top:438.22px;transform:scaleX(0.75)">S</span></div>
<div><span id="v2a" class="t" style="left:216.21px;top:434.00px;letter-spacing:1.25px;transform:scaleX(1.04)">500</span><span id="v2b" class="t" style="left:246.17px;top:434.00px;letter-spacing:0.41px;transform:scaleX(1.08)">mVΩ</span></div>
<div><span id="m" class="t" style="left:301.20px;top:434.00px;letter-spacing:0.00px">M</span> <span id="tba" class="t" style="left:320.41px;top:434.00px;letter-spacing:1.32px;transform:scaleX(1.04)">5.00</span><span id="tbb" class="t" style="left:356.24px;top:434.00px;letter-spacing:0.99px">ns</span></div>
<div><span id="ch4" class="t" style="left:387.23px;top:434.00px;letter-spacing:0.19px;transform:scaleX(1.06)">Ch4</span></div>
<div><span id="lvla" class="t" style="left:453.25px;top:434.00px;letter-spacing:2.12px;transform:scaleX(1.04)">−750</span><span id="lvlb" class="t" style="left:496.24px;top:434.00px;letter-spacing:0.78px">mV</span></div>
<div><span id="d" class="t" style="left:300.70px;top:449.00px;letter-spacing:0.00px">D</span> <span id="dla" class="t" style="left:326.31px;top:449.00px;letter-spacing:1.41px;transform:scaleX(1.04)">500</span><span id="dlb" class="t" style="left:356.53px;top:449.00px;letter-spacing:0.34px">ps</span></div>
<div><span id="runs" class="t" style="left:387.56px;top:449.00px;letter-spacing:0.04px;transform:scaleX(1.1)">Runs</span> <span id="after" class="t" style="left:433.10px;top:449.00px;letter-spacing:0.97px;transform:scaleX(1.1)">After</span></div>
<div><span id="d16" class="t" style="left:531.28px;top:437.00px;letter-spacing:0.98px;transform:scaleX(1.06)"><span class="o">1</span>6</span> <span id="apr" class="t" style="left:555.90px;top:437.00px;letter-spacing:1.01px;transform:scaleX(1.14)">Apr</span> <span id="y98" class="t" style="left:591.56px;top:437.00px;letter-spacing:0.61px;transform:scaleX(1.08)"><span class="o">1</span>998</span></div>
<div><span id="t1" class="t" style="left:531.58px;top:457.00px;letter-spacing:0.46px;transform:scaleX(1.06)"><span class="o">1</span>5</span><span id="tc1" class="t" style="left:551.03px;top:457.00px;letter-spacing:0.00px">:</span><span id="t2" class="t" style="left:557.76px;top:457.00px;letter-spacing:0.86px;transform:scaleX(1.08)">06</span><span id="tc2" class="t" style="left:576.83px;top:457.00px;letter-spacing:0.00px">:</span><span id="t3" class="t" style="left:583.61px;top:457.00px;letter-spacing:-0.21px;transform:scaleX(1.08)">03</span></div>
</body></html>
